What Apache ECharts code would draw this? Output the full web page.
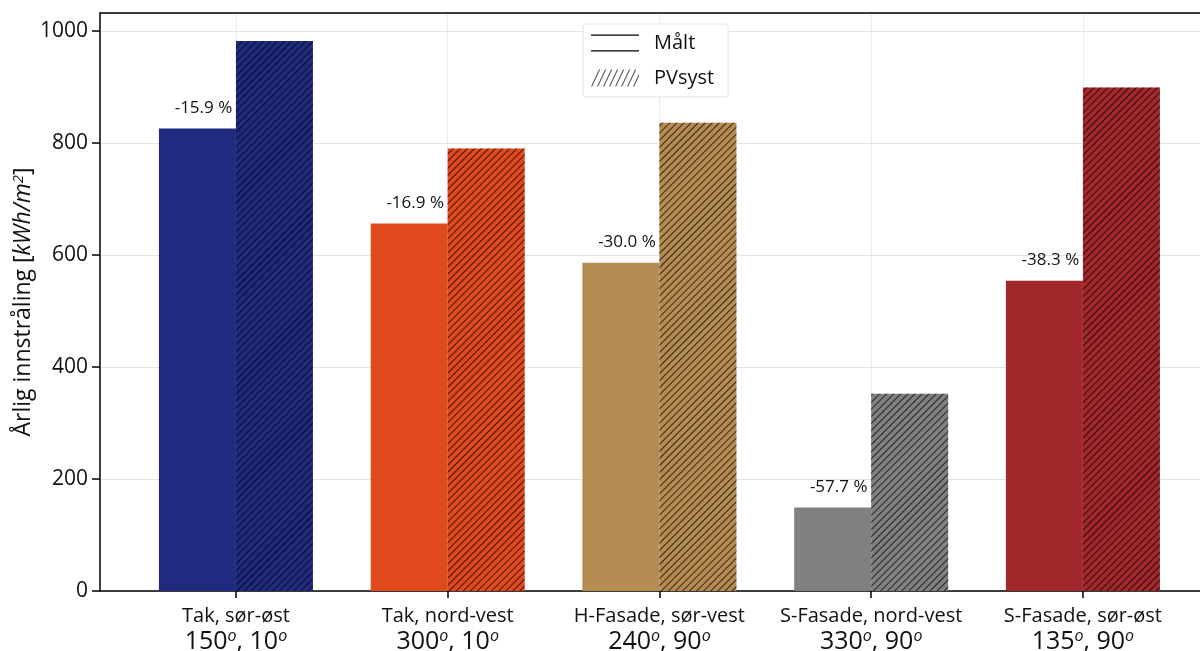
<!DOCTYPE html>
<html>
<head>
<meta charset="utf-8">
<script src="https://cdn.jsdelivr.net/npm/echarts@6/dist/echarts.min.js"></script>
<style>html,body{margin:0;padding:0;background:#fff;}#c{width:1200px;height:651px;}</style>
</head>
<body>
<div id="c"></div>
<script>
const categories = ['Tak, sør-øst', 'Tak, nord-vest', 'H-Fasade, sør-vest', 'S-Fasade, nord-vest', 'S-Fasade, sør-øst'];
const azimuth = [150, 300, 240, 330, 135];
const tilt = [10, 10, 90, 90, 90];
const measured = [826, 656, 586, 149, 554];
const pvsyst = [982, 790, 836, 352, 899];
const deviation = ['-15.9 %', '-16.9 %', '-30.0 %', '-57.7 %', '-38.3 %'];
const yTicks = [0, 200, 400, 600, 800, 1000];
const colors = ['#202a7e', '#e04a1c', '#b48b50', '#808080', '#a2282b'];

const FONT = 'Open Sans';
const idx = categories.map((_, i) => i);
const chart = echarts.init(document.getElementById('c'));

const hatch = {
  symbol: 'rect', symbolSize: 1,
  dashArrayX: [1, 0], dashArrayY: [1, 4],
  rotation: -Math.PI / 4,
  color: 'rgba(0,0,0,0.72)'
};

const X_MIN = -0.642, X_MAX = 4.553;

chart.setOption({
  animation: false,
  textStyle: { fontFamily: FONT },
  grid: { left: 100, top: 13, right: 0, bottom: 60, outerBoundsMode: 'none', containLabel: false },
  legend: {
    orient: 'vertical', left: 583, top: 24,
    padding: [9, 14, 9, 8], itemGap: 15, itemWidth: 48, itemHeight: 17,
    backgroundColor: '#fff', borderColor: '#e2e2e2', borderWidth: 1, borderRadius: 3,
    textStyle: { fontFamily: FONT, fontSize: 20, color: '#111', padding: [0, 0, 0, 10] },
    data: [
      { name: 'Målt', icon: 'path://M0,0H48V1.2H0Z M0,15.8H48V17H0Z', itemStyle: { color: '#000', decal: 'none' } },
      { name: 'PVsyst', icon: 'path://M0,17L8,0L9.2,0L1.2,17Z M6,17L14,0L15.2,0L7.2,17Z M12,17L20,0L21.2,0L13.2,17Z M18,17L26,0L27.2,0L19.2,17Z M24,17L32,0L33.2,0L25.2,17Z M30,17L38,0L39.2,0L31.2,17Z M36,17L44,0L45.2,0L37.2,17Z M42,17L48,4.25L48,6.8L43.2,17Z', itemStyle: { color: '#555', decal: 'none' } }
    ]
  },
  xAxis: [
    {
      type: 'value', min: X_MIN, max: X_MAX,
      axisLine: { show: true, onZero: false, lineStyle: { color: '#000', width: 1.5 } },
      axisTick: { show: true, customValues: idx, length: 7, lineStyle: { color: '#000', width: 1.5 } },
      axisLabel: {
        customValues: idx, margin: 13, color: '#111',
        formatter: v => '{c|' + categories[v] + '}\n{n|' + azimuth[v] + '}{s|o}{n|, ' + tilt[v] + '}{s|o}',
        rich: {
          c: { fontSize: 20, fontFamily: FONT, color: '#111', lineHeight: 24 },
          n: { fontSize: 25, fontFamily: FONT, color: '#111', lineHeight: 28 },
          s: { fontSize: 16, fontFamily: FONT, fontStyle: 'italic', color: '#111', verticalAlign: 'top', lineHeight: 28, padding: [0, 0, 7, 0] }
        }
      },
      splitLine: { show: true, lineStyle: { color: '#ececec', width: 1 } }
    },
    {
      type: 'value', min: X_MIN, max: X_MAX, position: 'top',
      axisLine: { show: true, onZero: false, lineStyle: { color: '#000', width: 1.5 } },
      axisTick: { show: false }, axisLabel: { show: false }, splitLine: { show: false }
    }
  ],
  yAxis: {
    type: 'value', min: 0, max: 1032,
    name: '{t|Årlig innstråling [}{i|kWh/m}{p|2}{t|]}',
    nameLocation: 'middle', nameGap: 64, nameRotate: 90, nameMoveOverlap: false,
    nameTextStyle: {
      rich: {
        t: { fontSize: 23, fontFamily: FONT, color: '#111' },
        i: { fontSize: 23, fontFamily: FONT, fontStyle: 'italic', color: '#111' },
        p: { fontSize: 15, fontFamily: FONT, fontStyle: 'italic', color: '#111', verticalAlign: 'top', padding: [0, 0, 10, 0] }
      }
    },
    axisLine: { show: true, onZero: false, lineStyle: { color: '#000', width: 1.5 } },
    axisTick: { show: true, customValues: yTicks, length: 8, lineStyle: { color: '#000', width: 1.5 } },
    axisLabel: { fontSize: 21, color: '#111', margin: 12, customValues: yTicks, formatter: v => String(v) },
    splitLine: { show: true, lineStyle: { color: '#e4e4e4', width: 1 } }
  },
  series: [
    {
      name: 'Målt', type: 'bar', barWidth: 77, barGap: '0%',
      data: measured.map((v, i) => [i, v]),
      itemStyle: { color: p => colors[p.dataIndex] },
      label: {
        show: true, position: 'top', distance: 12, offset: [6, 0],
        fontSize: 17, color: '#111', fontFamily: FONT,
        formatter: p => deviation[p.dataIndex]
      }
    },
    {
      name: 'PVsyst', type: 'bar', barWidth: 77, barGap: '0%',
      data: pvsyst.map((v, i) => [i, v]),
      itemStyle: { color: p => colors[p.dataIndex], decal: hatch }
    }
  ]
});
</script>
</body>
</html>
